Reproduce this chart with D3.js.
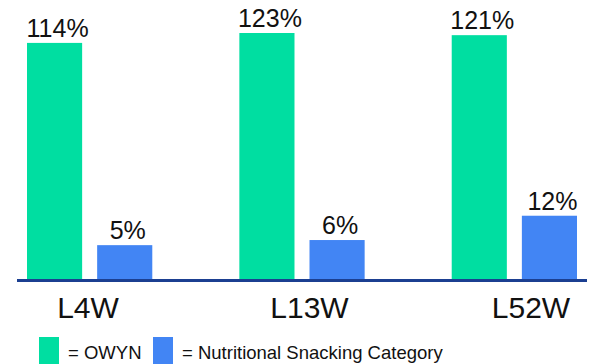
<!DOCTYPE html>
<html>
<head>
<meta charset="utf-8">
<script src="https://cdn.jsdelivr.net/npm/d3@7"></script>
<style>
  body { margin: 0; background: #fff; }
  svg { display: block; font-family: "Liberation Sans", Arial, sans-serif; }
</style>
</head>
<body>
<svg id="chart" width="591" height="364"></svg>
<script>
// values
var categories = ["L4W", "L13W", "L52W"];
var seriesNames = ["OWYN", "Nutritional Snacking Category"];
var owyn = [114, 123, 121];
var snacking = [5, 6, 12];
var legendLabels = ["= OWYN", "= Nutritional Snacking Category"];

var colors = { "OWYN": "#00DEA1", "Nutritional Snacking Category": "#4285F4" };

var svg = d3.select("#chart");
var baseY = 279;

// the bars in the picture follow a square-root like height
var y = d3.scaleSqrt()
  .domain([0.678, 123])
  .range([baseY, 33]);

var x0 = d3.scaleBand()
  .domain(categories)
  .range([27, 577])
  .paddingInner(0.41)
  .paddingOuter(0);

var x1 = d3.scaleBand()
  .domain(seriesNames)
  .range([0, x0.bandwidth()])
  .paddingInner(0.214)
  .paddingOuter(0);

var rows = categories.map(function(c, i){
  return { cat: c, values: [
    { name: seriesNames[0], value: owyn[i] },
    { name: seriesNames[1], value: snacking[i] }
  ]};
});

var groups = svg.selectAll("g.group")
  .data(rows)
  .enter().append("g")
    .attr("class", "group")
    .attr("transform", function(d){ return "translate(" + x0(d.cat) + ",0)"; });

groups.selectAll("rect")
  .data(function(d){ return d.values; })
  .enter().append("rect")
    .attr("x", function(d){ return x1(d.name); })
    .attr("y", function(d){ return y(d.value); })
    .attr("width", x1.bandwidth())
    .attr("height", function(d){ return baseY - y(d.value); })
    .attr("fill", function(d){ return colors[d.name]; });

groups.selectAll("text.val")
  .data(function(d){ return d.values; })
  .enter().append("text")
    .attr("class", "val")
    .attr("x", function(d){ return x1(d.name) + x1.bandwidth() / 2 + 3; })
    .attr("y", function(d){ return y(d.value) - 6; })
    .attr("text-anchor", "middle")
    .attr("font-size", 25)
    .attr("fill", "#111")
    .text(function(d){ return d.value + "%"; });

// baseline
svg.append("line")
  .attr("x1", 17)
  .attr("x2", 587)
  .attr("y1", baseY + 1.5)
  .attr("y2", baseY + 1.5)
  .attr("stroke", "#1B3F91")
  .attr("stroke-width", 3);

// category labels
var xl = d3.scalePoint()
  .domain(categories)
  .range([88, 531]);

svg.selectAll("text.cat")
  .data(categories)
  .enter().append("text")
    .attr("class", "cat")
    .attr("x", function(d){ return xl(d); })
    .attr("y", 318)
    .attr("text-anchor", "middle")
    .attr("font-size", 30)
    .attr("fill", "#111")
    .text(function(d){ return d; });

// legend
var legendX = [39, 153];
var legend = svg.selectAll("g.legend")
  .data(seriesNames)
  .enter().append("g")
    .attr("class", "legend")
    .attr("transform", function(d, i){ return "translate(" + legendX[i] + ",337)"; });

legend.append("rect")
  .attr("width", 20)
  .attr("height", 28)
  .attr("fill", function(d){ return colors[d]; });

legend.append("text")
  .attr("x", 29)
  .attr("y", 21.5)
  .attr("font-size", 18.5)
  .attr("fill", "#111")
  .text(function(d, i){ return legendLabels[i]; });
</script>
</body>
</html>
